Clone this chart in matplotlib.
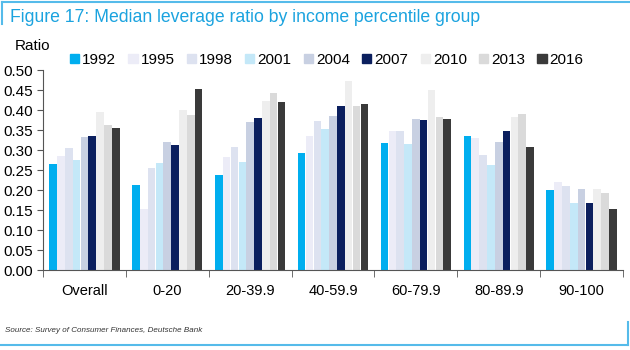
import matplotlib.pyplot as plt
import matplotlib.patches as mpatches
from matplotlib.lines import Line2D
import numpy as np

plt.rcParams['font.family'] = ['Liberation Sans', 'DejaVu Sans']

# Groups and survey years
groups = ['Overall', '0-20', '20-39.9', '40-59.9', '60-79.9', '80-89.9', '90-100']
years = ['1992', '1995', '1998', '2001', '2004', '2007', '2010', '2013', '2016']

# Median leverage ratio, one list per year (values per group)
v1992 = [0.264, 0.212, 0.238, 0.293, 0.318, 0.334, 0.199]
v1995 = [0.286, 0.153, 0.282, 0.334, 0.348, 0.331, 0.219]
v1998 = [0.304, 0.255, 0.307, 0.372, 0.348, 0.287, 0.209]
v2001 = [0.276, 0.267, 0.270, 0.352, 0.315, 0.262, 0.167]
v2004 = [0.333, 0.321, 0.369, 0.385, 0.377, 0.320, 0.203]
v2007 = [0.334, 0.312, 0.381, 0.410, 0.376, 0.347, 0.167]
v2010 = [0.394, 0.399, 0.423, 0.472, 0.450, 0.382, 0.203]
v2013 = [0.362, 0.387, 0.443, 0.410, 0.382, 0.389, 0.192]
v2016 = [0.356, 0.452, 0.419, 0.415, 0.378, 0.308, 0.152]
series = [v1992, v1995, v1998, v2001, v2004, v2007, v2010, v2013, v2016]

colors = ['#00aeef', '#ececf7', '#dde2f0', '#c4e8f8', '#c8d0e2',
          '#0b1f5e', '#eeeeee', '#dadada', '#3a3a3a']

fig = plt.figure(figsize=(6.3, 3.5), dpi=100)
ax = fig.add_axes([43 / 630, 1 - 270 / 350, 580 / 630, 200 / 350])

x = np.arange(len(groups))
n = len(years)
w = 0.85 / n
for i, (vals, c) in enumerate(zip(series, colors)):
    ax.bar(x - 0.425 + w * (i + 0.5), vals, width=w * 0.97, color=c, label=years[i])

ax.set_xlim(-0.5, len(groups) - 0.5)
ax.set_ylim(0, 0.5)
ax.set_yticks(np.arange(0, 0.51, 0.05))
ax.set_yticklabels([f'{t:.2f}' for t in np.arange(0, 0.51, 0.05)], fontsize=11)
ax.set_xticks(x)
ax.set_xticklabels(groups, fontsize=10.5)
ax.set_xticks(np.arange(-0.5, len(groups)), minor=True)
ax.tick_params(axis='x', which='major', length=0, pad=10)
ax.tick_params(axis='x', which='minor', length=5, color='#555555')
ax.tick_params(axis='y', length=4, color='#555555', pad=3)
for s in ['top', 'right']:
    ax.spines[s].set_visible(False)
for s in ['left', 'bottom']:
    ax.spines[s].set_color('#555555')

fig.text(15 / 630, 1 - 46 / 350, 'Ratio', fontsize=11, va='center', ha='left')

handles = [mpatches.Patch(color=c) for c in colors]
fig.legend(handles, years, loc='center left', bbox_to_anchor=(70 / 630, 1 - 60 / 350),
           ncol=9, frameon=False, fontsize=11, handlelength=0.6, handleheight=0.6,
           handletextpad=0.2, columnspacing=0.8, borderaxespad=0, borderpad=0)

fig.text(10 / 630, 1 - 18 / 350, 'Figure 17: Median leverage ratio by income percentile group',
         fontsize=12.7, color='#1ba3df', va='center', ha='left')
fig.text(5 / 630, 1 - 330 / 350, 'Source: Survey of Consumer Finances, Deutsche Bank',
         fontsize=5.8, style='italic', color='#333333', va='center', ha='left')

frame = '#55bbea'
fig.add_artist(Line2D([2 / 630, 1], [1 - 2 / 350] * 2, color=frame, lw=1.5))
fig.add_artist(Line2D([2 / 630] * 2, [1 - 2 / 350, 1 - 24 / 350], color=frame, lw=1.5))
fig.add_artist(Line2D([0, 628 / 630], [1 - 345 / 350] * 2, color=frame, lw=1.5))
fig.add_artist(Line2D([628 / 630] * 2, [1 - 345 / 350, 1 - 322 / 350], color=frame, lw=1.5))

fig.savefig('out.png', dpi=100)
